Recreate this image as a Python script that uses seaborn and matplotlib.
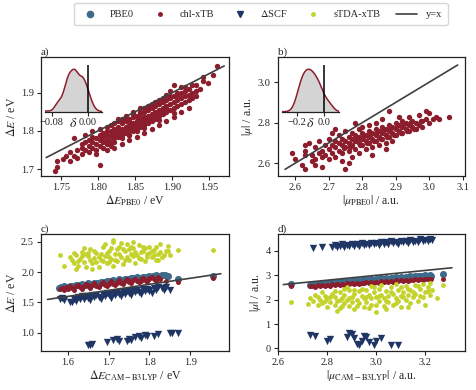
import numpy as np
import pandas as pd
import matplotlib
matplotlib.use("Agg")
import matplotlib.pyplot as plt
from matplotlib.lines import Line2D
import seaborn as sns

# ---------------- data ----------------
# panel a: excitation energy, PBE0 (x) vs chl-xTB (y)
a_pbe0 = [1.742,1.745,1.745,1.752,1.757,1.762,1.762,1.768,1.768,1.772,1.772,1.778,1.778,1.778,
          1.783,1.783,1.783,1.788,1.788,1.788,1.792,1.792,1.792,1.792,1.797,1.797,1.797,
          1.802,1.802,1.802,1.802,1.802,1.807,1.807,1.807,1.807,1.812,1.812,1.812,1.812,1.812,
          1.817,1.817,1.817,1.817,1.817,1.822,1.822,1.822,1.822,1.822,1.822,1.827,1.827,1.827,1.827,1.827,
          1.832,1.832,1.832,1.832,1.832,1.832,1.837,1.837,1.837,1.837,1.837,
          1.842,1.842,1.842,1.842,1.842,1.842,1.847,1.847,1.847,1.847,1.847,1.847,
          1.852,1.852,1.852,1.852,1.852,1.852,1.857,1.857,1.857,1.857,1.857,1.857,
          1.862,1.862,1.862,1.862,1.862,1.862,1.867,1.867,1.867,1.867,1.867,
          1.872,1.872,1.872,1.872,1.872,1.872,1.877,1.877,1.877,1.877,1.877,
          1.882,1.882,1.882,1.882,1.882,1.887,1.887,1.887,1.887,1.892,1.892,1.892,1.892,1.892,
          1.897,1.897,1.897,1.897,1.902,1.902,1.902,1.902,1.907,1.907,1.907,
          1.912,1.912,1.912,1.912,1.917,1.917,1.917,1.922,1.922,1.922,1.927,1.927,
          1.932,1.932,1.932,1.937,1.942,1.942,1.948,1.955,1.960,
          1.812,1.822,1.832,1.842,1.852,1.862,1.872,1.882,1.892,1.902,1.912,1.922,
          1.827,1.837,1.847,1.857,1.867,1.877,1.887,1.897,1.907,1.917,1.927,
          1.842,1.862,1.882,1.902,1.817,1.797]
a_chl = [1.695,1.720,1.705,1.725,1.735,1.745,1.720,1.780,1.735,1.750,1.730,1.755,1.740,1.765,
         1.750,1.770,1.790,1.760,1.745,1.775,1.770,1.755,1.785,1.800,1.765,1.780,1.750,
         1.775,1.790,1.760,1.805,1.710,1.785,1.770,1.795,1.755,1.790,1.775,1.800,1.765,1.810,
         1.785,1.800,1.770,1.815,1.790,1.790,1.805,1.780,1.820,1.795,1.770,1.800,1.785,1.810,1.825,1.795,
         1.805,1.790,1.820,1.800,1.830,1.780,1.810,1.795,1.825,1.800,1.835,
         1.815,1.800,1.830,1.810,1.790,1.825,1.820,1.805,1.835,1.815,1.845,1.800,
         1.825,1.810,1.840,1.820,1.800,1.835,1.830,1.815,1.845,1.825,1.850,1.810,
         1.835,1.820,1.850,1.830,1.815,1.860,1.840,1.825,1.855,1.835,1.820,
         1.845,1.830,1.860,1.840,1.870,1.825,1.850,1.835,1.865,1.845,1.830,
         1.855,1.840,1.870,1.850,1.880,1.860,1.845,1.875,1.855,1.865,1.850,1.880,1.860,1.895,
         1.870,1.855,1.885,1.905,1.875,1.860,1.890,1.920,1.880,1.865,1.895,
         1.885,1.870,1.900,1.915,1.890,1.875,1.905,1.895,1.880,1.910,1.900,1.885,
         1.905,1.890,1.920,1.910,1.930,1.940,1.925,1.945,1.970,
         1.750,1.755,1.765,1.775,1.785,1.795,1.805,1.815,1.825,1.835,1.850,1.860,
         1.830,1.840,1.850,1.860,1.865,1.875,1.885,1.890,1.900,1.915,1.920,
         1.790,1.808,1.828,1.848,1.760,1.740]

# panel b: dipole moment, PBE0 (x) vs chl-xTB (y)
b_pts = [(2.59,2.65),(2.60,2.62),(2.62,2.59),(2.63,2.57),(2.63,2.69),(2.63,2.66),(2.64,2.70),(2.65,2.61),
         (2.65,2.64),(2.66,2.68),(2.66,2.62),(2.67,2.65),(2.67,2.71),(2.68,2.63),(2.68,2.66),(2.69,2.69),
         (2.69,2.64),(2.70,2.67),(2.70,2.72),(2.70,2.62),(2.71,2.69),(2.71,2.65),(2.71,2.75),(2.72,2.68),
         (2.72,2.71),(2.72,2.63),(2.73,2.70),(2.73,2.66),(2.73,2.74),(2.74,2.69),(2.74,2.72),(2.74,2.65),
         (2.75,2.71),(2.75,2.68),(2.75,2.76),(2.75,2.57),(2.76,2.70),(2.76,2.73),(2.76,2.66),(2.77,2.72),
         (2.77,2.69),(2.77,2.75),(2.77,2.63),(2.78,2.71),(2.78,2.74),(2.78,2.67),(2.79,2.73),(2.79,2.70),
         (2.79,2.77),(2.79,2.65),(2.80,2.72),(2.80,2.75),(2.80,2.69),(2.80,2.78),(2.81,2.74),(2.81,2.71),
         (2.81,2.67),(2.82,2.73),(2.82,2.76),(2.82,2.70),(2.82,2.79),(2.83,2.72),(2.83,2.75),(2.83,2.68),
         (2.84,2.74),(2.84,2.77),(2.84,2.71),(2.84,2.80),(2.85,2.73),(2.85,2.76),(2.85,2.69),(2.86,2.75),
         (2.86,2.78),(2.86,2.72),(2.86,2.82),(2.87,2.74),(2.87,2.77),(2.87,2.70),(2.88,2.76),(2.88,2.79),
         (2.88,2.73),(2.88,2.86),(2.89,2.75),(2.89,2.78),(2.89,2.71),(2.90,2.77),(2.90,2.80),(2.90,2.74),
         (2.91,2.76),(2.91,2.79),(2.91,2.83),(2.92,2.78),(2.92,2.75),(2.92,2.81),(2.93,2.77),(2.93,2.80),
         (2.94,2.79),(2.94,2.76),(2.94,2.83),(2.95,2.78),(2.95,2.81),(2.96,2.80),(2.96,2.77),(2.97,2.79),
         (2.97,2.84),(2.98,2.81),(2.98,2.78),(2.99,2.86),(2.99,2.82),(3.00,2.80),(3.00,2.85),(3.01,2.82),
         (3.02,2.83),(3.03,2.82),(3.06,2.83),(2.76,2.60),(2.68,2.58),(2.63,2.64),(2.66,2.59),(2.74,2.61),
         (2.83,2.64),(2.87,2.67),(2.72,2.77),(2.78,2.80),
         (2.785,2.720),(2.805,2.735),(2.825,2.745),(2.845,2.755),(2.865,2.765),(2.885,2.775),(2.905,2.785),
         (2.925,2.795),(2.945,2.805),(2.795,2.690),(2.815,2.700),(2.835,2.710),(2.855,2.720),(2.875,2.730),
         (2.895,2.740),(2.915,2.750),(2.935,2.760),(2.955,2.770),(2.975,2.810),(2.765,2.680),(2.745,2.675)]

# panel c: energies vs CAM-B3LYP
c_pbe0 = [(1.578,1.745),(1.582,1.760),(1.590,1.765),(1.598,1.758),(1.605,1.778),(1.612,1.770),(1.620,1.790),
          (1.628,1.782),(1.635,1.800),(1.642,1.795),(1.650,1.815),(1.658,1.808),(1.665,1.828),(1.672,1.820),
          (1.680,1.840),(1.688,1.835),(1.695,1.855),(1.702,1.848),(1.710,1.868),(1.718,1.860),(1.725,1.880),
          (1.732,1.872),(1.740,1.892),(1.748,1.885),(1.755,1.905),(1.762,1.898),(1.770,1.915),(1.778,1.910),
          (1.785,1.928),(1.792,1.920),(1.800,1.940),(1.808,1.935),(1.815,1.952),(1.822,1.945),(1.830,1.955),
          (1.838,1.948),(1.845,1.935),(1.870,1.880),(1.955,1.930)]
c_chl = [(1.580,1.720),(1.585,1.745),(1.590,1.705),(1.595,1.760),(1.600,1.730),(1.605,1.775),(1.610,1.740),
         (1.615,1.710),(1.620,1.765),(1.625,1.790),(1.630,1.750),(1.635,1.725),(1.640,1.780),(1.645,1.805),
         (1.650,1.765),(1.655,1.740),(1.660,1.795),(1.665,1.820),(1.670,1.780),(1.675,1.755),(1.680,1.810),
         (1.685,1.835),(1.690,1.795),(1.695,1.770),(1.700,1.825),(1.705,1.850),(1.710,1.810),(1.715,1.785),
         (1.720,1.840),(1.725,1.865),(1.730,1.825),(1.735,1.800),(1.740,1.855),(1.745,1.880),(1.750,1.840),
         (1.755,1.815),(1.760,1.870),(1.765,1.895),(1.770,1.855),(1.775,1.830),(1.780,1.885),(1.785,1.910),
         (1.790,1.870),(1.795,1.845),(1.800,1.900),(1.805,1.925),(1.810,1.885),(1.815,1.860),(1.820,1.915),
         (1.825,1.895),(1.840,1.860),(1.870,1.830),(1.955,1.905),(1.700,1.800),(1.750,1.860),(1.800,1.880),
         (1.650,1.790),(1.720,1.815),(1.780,1.860)]
c_dscf = [(1.580,1.560),(1.585,1.570),(1.590,1.545),(1.605,1.510),(1.610,1.500),(1.615,1.560),(1.620,1.530),
          (1.625,1.590),(1.630,1.550),(1.635,1.600),(1.640,1.560),(1.645,1.610),(1.650,1.575),(1.655,1.540),
          (1.660,1.620),(1.665,1.585),(1.670,1.630),(1.675,1.595),(1.680,1.560),(1.685,1.640),(1.690,1.605),
          (1.695,1.650),(1.700,1.615),(1.705,1.580),(1.710,1.660),(1.715,1.625),(1.720,1.670),(1.725,1.635),
          (1.730,1.600),(1.735,1.680),(1.740,1.645),(1.745,1.690),(1.750,1.655),(1.755,1.620),(1.760,1.700),
          (1.765,1.665),(1.770,1.710),(1.775,1.675),(1.780,1.640),(1.785,1.720),(1.790,1.685),(1.795,1.730),
          (1.800,1.695),(1.805,1.660),(1.810,1.740),(1.815,1.705),(1.820,1.750),(1.830,1.740),(1.835,1.700),
          (1.850,1.700),(1.840,1.760),(1.700,1.640),(1.750,1.680),(1.800,1.710),(1.650,1.600),
          (1.650,0.800),(1.660,0.810),(1.655,0.790),(1.695,0.840),(1.710,0.880),(1.720,0.890),(1.725,0.870),
          (1.745,0.860),(1.750,0.900),(1.755,0.880),(1.765,0.930),(1.775,0.950),(1.780,0.920),(1.790,0.960),
          (1.795,0.940),(1.810,0.950),(1.820,0.970),(1.850,1.000),(1.855,0.990),(1.870,1.000)]
c_stda = [(1.580,2.290),(1.590,2.110),(1.610,2.200),(1.615,2.150),(1.620,2.280),(1.625,2.100),(1.630,2.220),
          (1.635,2.330),(1.640,2.170),(1.645,2.080),(1.650,2.260),(1.655,2.380),(1.660,2.150),(1.665,2.230),
          (1.670,2.320),(1.675,2.090),(1.680,2.200),(1.685,2.420),(1.690,2.270),(1.695,2.150),(1.700,2.350),
          (1.705,2.220),(1.710,2.500),(1.710,2.100),(1.715,2.300),(1.720,2.180),(1.725,2.420),(1.730,2.250),
          (1.735,2.130),(1.740,2.350),(1.745,2.470),(1.750,2.200),(1.755,2.300),(1.760,2.400),(1.765,2.160),
          (1.770,2.280),(1.775,2.450),(1.780,2.220),(1.785,2.350),(1.790,2.180),(1.795,2.300),(1.800,2.420),
          (1.805,2.250),(1.810,2.370),(1.815,2.200),(1.820,2.300),(1.825,2.460),(1.830,2.250),(1.840,2.350),
          (1.845,2.430),(1.850,2.280),(1.870,2.370),(1.955,2.360),(1.650,2.320),(1.700,2.250),(1.750,2.380),
          (1.800,2.320),(1.680,2.300),(1.720,2.380),(1.760,2.260),(1.640,2.400),(1.690,2.460),(1.730,2.480),
          (1.620,2.060),(1.660,2.050),(1.700,2.170),(1.780,2.330),(1.810,2.290),(1.670,2.170),(1.740,2.200),
          (1.790,2.400),
          (1.605,2.250),(1.615,2.320),(1.625,2.180),(1.635,2.260),(1.645,2.300),(1.655,2.200),(1.665,2.350),
          (1.675,2.250),(1.685,2.180),(1.695,2.320),(1.705,2.400),(1.715,2.200),(1.725,2.300),(1.735,2.380),
          (1.745,2.250),(1.755,2.420),(1.765,2.330),(1.775,2.240),(1.785,2.420),(1.795,2.250),(1.805,2.350),
          (1.815,2.420),(1.825,2.330),(1.835,2.280),(1.845,2.350),(1.710,2.530),(1.760,2.500),(1.820,2.200)]

# panel d: dipoles vs CAM-B3LYP
d_pbe0 = [(2.650,2.650),(2.730,2.610),(2.740,2.640),(2.750,2.620),(2.760,2.660),(2.770,2.640),(2.780,2.680),
          (2.790,2.660),(2.800,2.700),(2.810,2.680),(2.820,2.720),(2.830,2.700),(2.840,2.735),(2.850,2.715),
          (2.860,2.750),(2.870,2.730),(2.880,2.765),(2.890,2.745),(2.900,2.780),(2.910,2.760),(2.920,2.795),
          (2.930,2.775),(2.940,2.810),(2.950,2.790),(2.960,2.825),(2.970,2.805),(2.980,2.840),(2.990,2.820),
          (3.000,2.855),(3.010,2.835),(3.020,2.870),(3.030,2.850),(3.040,2.885),(3.050,2.865),(3.060,2.900),
          (3.070,2.880),(3.080,2.915),(3.090,2.895),(3.100,2.930),(3.110,2.910),(3.120,2.945),(3.130,2.925),
          (3.140,2.960),(3.150,2.940),(3.160,2.975),(3.170,2.955),(3.180,2.990),(3.190,2.970),(3.200,3.005),
          (3.210,2.985),(3.220,3.010),(3.225,2.980),(3.275,3.050)]
d_chl = [(2.650,2.570),(2.730,2.550),(2.740,2.580),(2.750,2.540),(2.760,2.590),(2.770,2.560),(2.780,2.600),
         (2.790,2.570),(2.800,2.615),(2.810,2.580),(2.820,2.625),(2.830,2.595),(2.840,2.640),(2.850,2.605),
         (2.860,2.650),(2.870,2.620),(2.880,2.665),(2.890,2.630),(2.900,2.675),(2.910,2.645),(2.920,2.690),
         (2.930,2.655),(2.940,2.700),(2.950,2.670),(2.960,2.715),(2.970,2.680),(2.980,2.725),(2.990,2.695),
         (3.000,2.740),(3.010,2.705),(3.020,2.750),(3.030,2.720),(3.040,2.765),(3.050,2.730),(3.060,2.775),
         (3.070,2.745),(3.080,2.790),(3.090,2.755),(3.100,2.800),(3.110,2.770),(3.120,2.815),(3.130,2.780),
         (3.140,2.825),(3.150,2.795),(3.160,2.840),(3.170,2.805),(3.180,2.850),(3.190,2.820),(3.200,2.860),
         (3.210,2.830),(3.220,2.865),(3.225,2.840),(3.275,2.850)]
d_dscf = [(2.740,4.120),(2.780,4.150),(2.820,4.180),(2.830,4.250),(2.840,4.150),(2.850,4.220),(2.860,4.280),
          (2.870,4.180),(2.880,4.250),(2.890,4.200),(2.900,4.300),(2.910,4.220),(2.920,4.270),(2.930,4.200),
          (2.940,4.320),(2.950,4.250),(2.960,4.300),(2.970,4.230),(2.980,4.340),(2.990,4.270),(3.000,4.320),
          (3.010,4.250),(3.020,4.370),(3.030,4.300),(3.040,4.350),(3.050,4.280),(3.060,4.390),(3.070,4.320),
          (3.080,4.370),(3.090,4.300),(3.100,4.420),(3.110,4.350),(3.120,4.400),(3.130,4.330),(3.140,4.450),
          (3.150,4.380),(3.160,4.430),(3.170,4.360),(3.180,4.480),(3.190,4.410),(3.200,4.460),(3.210,4.400),
          (3.220,4.500),(3.230,4.450),
          (2.730,0.560),(2.750,0.520),(2.800,0.320),(2.810,0.380),(2.880,0.480),(2.890,0.620),(2.900,0.600),
          (2.910,0.440),(2.920,0.180),(2.930,0.150),(2.940,0.300),(2.950,0.520),(2.960,0.480),(2.970,0.260),
          (2.990,0.150),(3.000,0.320),(3.020,0.420),(3.060,0.150),(3.090,0.150)]
d_stda = [(2.650,1.920),(2.720,1.820),(2.730,2.050),(2.740,1.950),(2.750,2.200),(2.760,1.780),(2.770,2.000),
          (2.780,1.880),(2.790,2.150),(2.800,1.700),(2.800,2.050),(2.810,1.900),(2.820,2.250),(2.830,1.800),
          (2.830,2.100),(2.840,1.950),(2.850,2.300),(2.850,1.650),(2.860,2.050),(2.870,1.850),(2.870,2.200),
          (2.880,1.980),(2.890,2.380),(2.890,1.750),(2.900,2.100),(2.900,1.900),(2.910,2.250),(2.910,1.600),
          (2.920,2.000),(2.930,1.850),(2.930,2.350),(2.940,2.150),(2.950,1.700),(2.950,2.050),(2.960,2.400),
          (2.960,1.900),(2.970,2.200),(2.980,1.800),(2.980,2.050),(2.990,2.300),(3.000,1.500),(3.000,2.100),
          (3.010,1.950),(3.010,2.450),(3.020,2.200),(3.030,1.750),(3.030,2.050),(3.040,2.350),(3.050,1.900),
          (3.050,2.150),(3.060,2.500),(3.070,1.800),(3.070,2.250),(3.080,2.050),(3.090,2.400),(3.090,1.950),
          (3.100,2.150),(3.100,1.700),(3.110,2.300),(3.120,2.000),(3.120,2.550),(3.130,2.200),(3.140,1.850),
          (3.140,2.400),(3.150,2.100),(3.160,2.600),(3.160,2.250),(3.170,1.950),(3.180,2.450),(3.180,2.150),
          (3.190,2.650),(3.200,2.300),(3.200,1.800),(3.210,2.500),(3.220,2.700),(3.220,2.200),(3.230,2.400),
          (3.250,2.050),(3.275,2.600),(2.780,2.300),(2.880,2.500),(2.980,2.550),(3.080,2.650),(2.840,1.550),
          (3.040,1.600),
          (2.760,2.100),(2.790,1.950),(2.810,2.100),(2.830,2.350),(2.850,2.000),(2.870,2.450),(2.890,2.050),
          (2.910,2.400),(2.920,1.750),(2.940,2.450),(2.960,2.100),(2.970,1.650),(2.990,2.500),(3.010,2.150),
          (3.020,2.600),(3.040,1.950),(3.060,2.300),(3.080,1.850),(3.100,2.500),(3.110,2.100),(3.130,2.450),
          (3.150,2.300),(3.170,2.550),(3.190,2.100),(3.210,2.350),(2.860,1.750),(3.000,1.800),(3.130,1.700)]

# identity line extents per panel
ident_a = [1.73, 1.97]
ident_b = [2.57, 3.085]
ident_c = [1.55, 1.975]
ident_d = [2.62, 3.31]

legend_labels = ["PBE0", "chl-xTB", r"$\Delta$SCF", "sTDA-xTB", "y=x"]

# ---------------- style ----------------
sns.set_style("ticks")
plt.rcParams["font.family"] = ["Liberation Serif", "DejaVu Serif"]
plt.rcParams["mathtext.fontset"] = "stix"
plt.rcParams["axes.edgecolor"] = "#222222"
plt.rcParams["axes.linewidth"] = 0.9
plt.rcParams["xtick.major.size"] = 3
plt.rcParams["ytick.major.size"] = 3
plt.rcParams["xtick.major.width"] = 0.8
plt.rcParams["ytick.major.width"] = 0.8

C_PBE0 = "#3f6b8b"
C_CHL = "#8c1d2d"
C_DSCF = "#1f3665"
C_STDA = "#c3d32b"
C_LINE = "#404040"

W, H = 476, 390
fig = plt.figure(figsize=(W / 100, H / 100), dpi=100)

def rect(x0, y0, x1, y1):
    return [x0 / W, 1 - y1 / H, (x1 - x0) / W, (y1 - y0) / H]

ax_a = fig.add_axes(rect(41, 57.3, 229, 176))
ax_b = fig.add_axes(rect(277.7, 57.3, 464.7, 176))
ax_c = fig.add_axes(rect(41, 234.3, 229, 350.7))
ax_d = fig.add_axes(rect(277.7, 234.3, 464.7, 350.7))

def df(pts):
    arr = np.array(pts)
    return pd.DataFrame({"x": arr[:, 0], "y": arr[:, 1]})

def ident(ax, ext):
    sns.lineplot(x=ext, y=ext, ax=ax, color=C_LINE, lw=1.2, zorder=5)

TICK_FS = 7.5
LAB_FS = 8.5

# panel a
dfa = pd.DataFrame({"x": a_pbe0, "y": a_chl})
sns.scatterplot(data=dfa, x="x", y="y", ax=ax_a, color=C_CHL, s=15, linewidth=0)
ident(ax_a, ident_a)
ax_a.set_xlim(1.723, 1.9765); ax_a.set_ylim(1.6817, 1.9926)
ax_a.set_xticks([1.75, 1.80, 1.85, 1.90, 1.95]); ax_a.set_yticks([1.7, 1.8, 1.9])
ax_a.set_xlabel(r"$\Delta E_{\mathrm{PBE0}}$ / eV", fontsize=LAB_FS, labelpad=1)
ax_a.set_ylabel(r"$\Delta E$ / eV", fontsize=LAB_FS, labelpad=2)

# panel b
dfb = df(b_pts)
sns.scatterplot(data=dfb, x="x", y="y", ax=ax_b, color=C_CHL, s=15, linewidth=0)
ident(ax_b, ident_b)
ax_b.set_xlim(2.548, 3.106); ax_b.set_ylim(2.537, 3.123)
ax_b.set_xticks([2.6, 2.7, 2.8, 2.9, 3.0, 3.1]); ax_b.set_yticks([2.6, 2.8, 3.0])
ax_b.set_xlabel(r"$|\mu_{\mathrm{PBE0}}|$ / a.u.", fontsize=LAB_FS, labelpad=1)
ax_b.set_ylabel(r"$|\mu|$ / a.u.", fontsize=LAB_FS, labelpad=2)

# panels c, d
for ax, series, ext in [
    (ax_c, (c_pbe0, c_chl, c_dscf, c_stda), ident_c),
    (ax_d, (d_pbe0, d_chl, d_dscf, d_stda), ident_d),
]:
    p, ch, ds, st = series
    sns.scatterplot(data=df(p), x="x", y="y", ax=ax, color=C_PBE0, s=26, linewidth=0, marker="o")
    sns.scatterplot(data=df(ch), x="x", y="y", ax=ax, color=C_CHL, s=13, linewidth=0, marker="o")
    sns.scatterplot(data=df(ds), x="x", y="y", ax=ax, color=C_DSCF, s=28, linewidth=0, marker="v")
    sns.scatterplot(data=df(st), x="x", y="y", ax=ax, color=C_STDA, s=12, linewidth=0, marker="o")
    ident(ax, ext)

ax_c.set_xlim(1.534, 1.995); ax_c.set_ylim(0.702, 2.627)
ax_c.set_xticks([1.6, 1.7, 1.8, 1.9]); ax_c.set_yticks([1.0, 1.5, 2.0, 2.5])
ax_c.set_xlabel(r"$\Delta E_{\mathrm{CAM-B3LYP}}$ / eV", fontsize=LAB_FS, labelpad=1)
ax_c.set_ylabel(r"$\Delta E$ / eV", fontsize=LAB_FS, labelpad=2)

ax_d.set_xlim(2.597, 3.362); ax_d.set_ylim(-0.096, 4.685)
ax_d.set_xticks([2.6, 2.8, 3.0, 3.2]); ax_d.set_yticks([0, 1, 2, 3, 4])
ax_d.set_xlabel(r"$|\mu_{\mathrm{CAM-B3LYP}}|$ / a.u.", fontsize=LAB_FS, labelpad=1)
ax_d.set_ylabel(r"$|\mu|$ / a.u.", fontsize=LAB_FS, labelpad=2)

for ax, lab in [(ax_a, "a)"), (ax_b, "b)"), (ax_c, "c)"), (ax_d, "d)")]:
    ax.tick_params(labelsize=TICK_FS, pad=2)
    ax.set_title(lab, loc="left", fontsize=8, pad=1.5)

# insets with distribution of deviations
def inset(r, delta, xlim, ticks, ticklabels):
    axi = fig.add_axes(r)
    sns.kdeplot(x=delta, ax=axi, fill=True, color="#d4d4d4", alpha=1, linewidth=0, bw_adjust=1.1)
    sns.kdeplot(x=delta, ax=axi, color=C_CHL, lw=1.1, bw_adjust=1.1)
    ymax = max(l.get_ydata().max() for l in axi.get_lines())
    axi.axvline(0, color="black", lw=1.1)
    axi.set_xlim(*xlim)
    axi.set_ylim(0, ymax * 1.1)
    for s in ["left", "right", "top"]:
        axi.spines[s].set_visible(False)
    axi.set_yticks([])
    axi.set_ylabel("")
    axi.set_xticks(ticks)
    axi.set_xticklabels(ticklabels)
    axi.tick_params(labelsize=TICK_FS, pad=1.5, length=3)
    axi.set_xlabel(r"$\delta$", fontsize=10, labelpad=-7)
    axi.set_facecolor("white")
    return axi

delta_a = np.array(a_chl) - np.array(a_pbe0)
delta_b = dfb["y"].values - dfb["x"].values
inset(rect(45, 65, 102, 111.7), delta_a, (-0.095, 0.032), [-0.08, 0.0], ["\u22120.08", "0.00"])
inset(rect(282, 65, 339, 111.7), delta_b, (-0.31, 0.115), [-0.2, 0.0], ["\u22120.2", "0.0"])

handles = [
    Line2D([], [], ls="", marker="o", color=C_PBE0, markersize=4.5),
    Line2D([], [], ls="", marker="o", color=C_CHL, markersize=2.5),
    Line2D([], [], ls="", marker="v", color=C_DSCF, markersize=5),
    Line2D([], [], ls="", marker="o", color=C_STDA, markersize=2.5),
    Line2D([], [], color=C_LINE, lw=1.2),
]
leg = fig.legend(handles, legend_labels, loc="upper center", bbox_to_anchor=(0.548, 1.005),
                 ncol=5, fontsize=7.5, frameon=True, edgecolor="#cccccc", fancybox=True,
                 columnspacing=1.5, handlelength=2.0, handletextpad=0.9, borderpad=0.5)

fig.savefig("out.png", dpi=100)
